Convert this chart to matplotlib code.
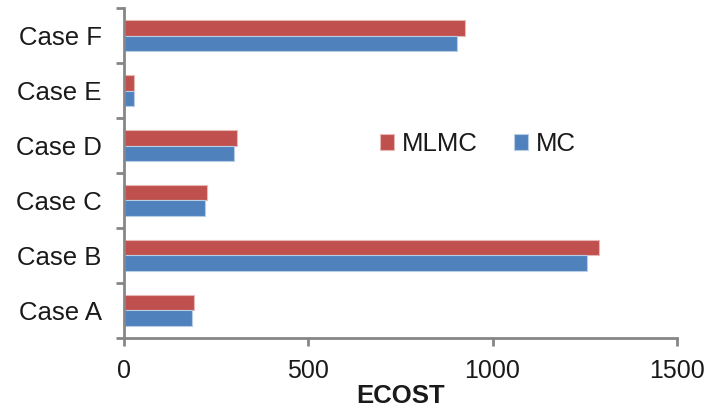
import numpy as np
import matplotlib.pyplot as plt

plt.rcParams['font.family'] = ['Liberation Sans', 'DejaVu Sans']

# Data
cases = ["Case A", "Case B", "Case C", "Case D", "Case E", "Case F"]
mlmc = [190, 1288, 225, 308, 28, 925]
mc = [185, 1255, 219, 300, 27, 903]

red = "#C0504D"
blue = "#4F81BD"
axis_grey = "#868686"
text_col = "#1a1a1a"

fig = plt.figure(figsize=(7.08, 4.08), dpi=100)
ax = fig.add_axes([0.175, 0.172, 0.781, 0.808])

y = np.arange(len(cases))
h = 0.28
ax.barh(y + h / 2, mlmc, height=h, color=red, edgecolor="#E8B8B6", linewidth=0.8, label="MLMC")
ax.barh(y - h / 2, mc, height=h, color=blue, edgecolor="#B8CCE4", linewidth=0.8, label="MC")

ax.set_xlim(0, 1500)
ax.set_ylim(-0.5, len(cases) - 0.5)
ax.set_xticks([0, 500, 1000, 1500])
ax.set_yticks(np.arange(-0.5, len(cases), 1.0))
ax.set_yticklabels([])
ax.set_yticks(y, minor=True)
ax.set_yticklabels(cases, minor=True)
ax.tick_params(axis="y", which="minor", length=0, labelsize=18.5, pad=16, labelcolor=text_col)
ax.tick_params(axis="y", which="major", length=6, width=2, color=axis_grey, direction="out")
ax.tick_params(axis="x", length=6, width=2, color=axis_grey, direction="out", labelsize=18, pad=9,
               labelcolor=text_col)

for s in ["top", "right"]:
    ax.spines[s].set_visible(False)
for s in ["left", "bottom"]:
    ax.spines[s].set_color(axis_grey)
    ax.spines[s].set_linewidth(2)

ax.set_xlabel("ECOST", fontsize=18.5, fontweight="bold", labelpad=1, color=text_col)

leg = ax.legend(loc="center", bbox_to_anchor=(0.64, 0.588), ncol=2, frameon=False,
                fontsize=18.5, handlelength=0.55, handleheight=0.55, columnspacing=1.4,
                handletextpad=0.3)
for t in leg.get_texts():
    t.set_color(text_col)

fig.savefig("out.png", dpi=100)
